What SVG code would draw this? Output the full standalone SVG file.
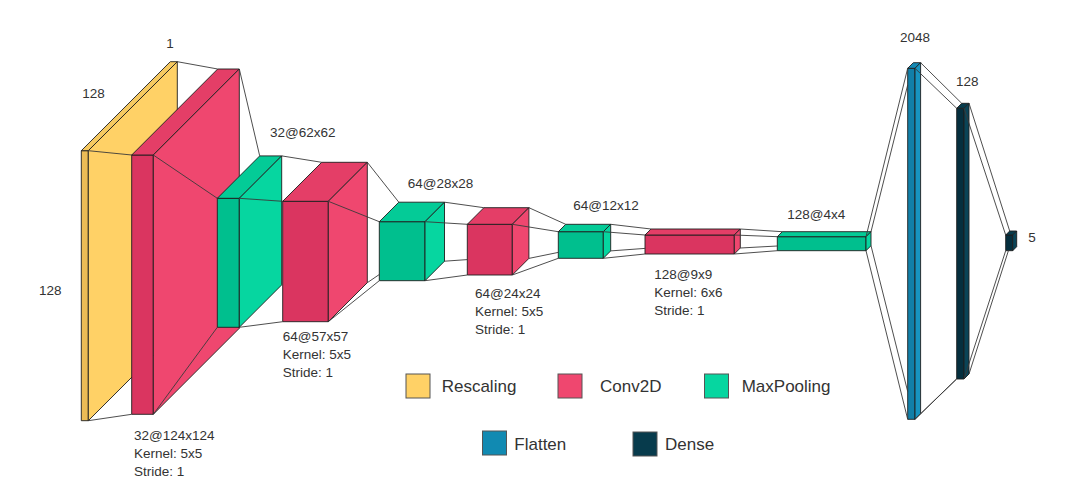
<svg xmlns="http://www.w3.org/2000/svg" width="1069" height="492" viewBox="0 0 1069 492">
<style>
  .e { stroke: #1e1e1e; stroke-width: 0.9; stroke-linejoin: round; }
  .c { stroke: #3a3a3a; stroke-width: 0.9; fill: none; }
  .yf { fill: #ECBC56; } .yt { fill: #F6C960; } .ys { fill: #FFD166; }
  .rf { fill: #DA3560; } .rt { fill: #E43E67; } .rs { fill: #EF476F; }
  .gf { fill: #00BF8E; } .gt { fill: #04CB97; } .gs { fill: #06D6A0; }
  .bf { fill: #117FA8; } .bt { fill: #1489B4; } .bs { fill: #1794C0; }
  .df { fill: #052F3E; } .dt { fill: #073B4C; } .ds { fill: #0A4457; }
  text { font-family: "Liberation Sans", Arial, sans-serif; fill: #333333; }
  .lb { font-size: 13.5px; }
  .lg { font-size: 17px; }
  .sw { stroke: #555555; stroke-width: 1; }
</style>
<rect width="1069" height="492" fill="#ffffff"/>

<g id="rescaling">
  <rect class="e yf" x="81.3" y="150.7" width="7" height="270"/>
  <polygon class="e yt" points="81.3,150.7 88.3,150.7 177.3,61.7 170.3,61.7"/>
  <polygon class="e ys" points="88.3,150.7 177.3,61.7 177.3,331.7 88.3,420.7"/>
  <text class="lb" x="170" y="48" text-anchor="middle">1</text>
  <text class="lb" x="82.3" y="98">128</text>
  <text class="lb" x="39" y="295">128</text>
</g>

<g id="conv1">
  <rect class="e rf" x="131.7" y="155" width="21.6" height="259.3"/>
  <polygon class="e rt" points="131.7,155 153.3,155 239.3,69 217.7,69"/>
  <polygon class="e rs" points="153.3,155 239.3,69 239.3,328.3 153.3,414.3"/>
  <text class="lb" x="134" y="440">32@124x124</text>
  <text class="lb" x="134" y="458">Kernel: 5x5</text>
  <text class="lb" x="134" y="476">Stride: 1</text>
</g>

<g id="pool1">
  <rect class="e gf" x="217.3" y="198.3" width="22" height="129"/>
  <polygon class="e gt" points="217.3,198.3 239.3,198.3 281.7,155.9 259.7,155.9"/>
  <polygon class="e gs" points="239.3,198.3 281.7,155.9 281.7,284.9 239.3,327.3"/>
  <text class="lb" x="270" y="137">32@62x62</text>
</g>

<g id="conv2">
  <rect class="e rf" x="282.7" y="201.3" width="45.6" height="120.4"/>
  <polygon class="e rt" points="282.7,201.3 328.3,201.3 367.3,162.3 321.7,162.3"/>
  <polygon class="e rs" points="328.3,201.3 367.3,162.3 367.3,282.7 328.3,321.7"/>
  <text class="lb" x="282.7" y="341">64@57x57</text>
  <text class="lb" x="282.7" y="359">Kernel: 5x5</text>
  <text class="lb" x="282.7" y="377">Stride: 1</text>
</g>

<g id="pool2">
  <rect class="e gf" x="379.3" y="221.7" width="45.7" height="59"/>
  <polygon class="e gt" points="379.3,221.7 425,221.7 444.5,202.2 398.8,202.2"/>
  <polygon class="e gs" points="425,221.7 444.5,202.2 444.5,261.2 425,280.7"/>
  <text class="lb" x="407.7" y="188">64@28x28</text>
</g>

<g id="conv3">
  <rect class="e rf" x="467.3" y="224.3" width="45" height="50.7"/>
  <polygon class="e rt" points="467.3,224.3 512.3,224.3 528.9,207.7 483.9,207.7"/>
  <polygon class="e rs" points="512.3,224.3 528.9,207.7 528.9,258.4 512.3,275"/>
  <text class="lb" x="475" y="297.5">64@24x24</text>
  <text class="lb" x="475" y="315.5">Kernel: 5x5</text>
  <text class="lb" x="475" y="333.5">Stride: 1</text>
</g>

<g id="pool3">
  <rect class="e gf" x="558.3" y="231.7" width="45" height="26.6"/>
  <polygon class="e gt" points="558.3,231.7 603.3,231.7 610.7,224.3 565.7,224.3"/>
  <polygon class="e gs" points="603.3,231.7 610.7,224.3 610.7,250.9 603.3,258.3"/>
  <text class="lb" x="573.3" y="210">64@12x12</text>
</g>

<g id="conv4">
  <rect class="e rf" x="645" y="235" width="89.3" height="19"/>
  <polygon class="e rt" points="645,235 734.3,235 740.3,229 651,229"/>
  <polygon class="e rs" points="734.3,235 740.3,229 740.3,248 734.3,254"/>
  <text class="lb" x="654.3" y="279">128@9x9</text>
  <text class="lb" x="654.3" y="297">Kernel: 6x6</text>
  <text class="lb" x="654.3" y="315">Stride: 1</text>
</g>

<g id="pool4">
  <rect class="e gf" x="777.3" y="236.7" width="88.7" height="14"/>
  <polygon class="e gt" points="777.3,236.7 866,236.7 871,231.7 782.3,231.7"/>
  <polygon class="e gs" points="866,236.7 871,231.7 871,245.7 866,250.7"/>
  <text class="lb" x="787.3" y="219">128@4x4</text>
</g>

<g id="flatten">
  <rect class="e bf" x="907.7" y="68.3" width="7.3" height="351"/>
  <polygon class="e bt" points="907.7,68.3 915,68.3 920.6,62.7 913.3,62.7"/>
  <polygon class="e bs" points="915,68.3 920.6,62.7 920.6,413.7 915,419.3"/>
  <text class="lb" x="900" y="41.5">2048</text>
</g>

<g id="dense1">
  <rect class="e df" x="956.7" y="108.3" width="7.3" height="270.7"/>
  <polygon class="e dt" points="956.7,108.3 964,108.3 969,103.3 961.7,103.3"/>
  <polygon class="e ds" points="964,108.3 969,103.3 969,374 964,379"/>
  <text class="lb" x="956" y="85.5">128</text>
</g>

<g id="dense2">
  <rect class="e df" x="1005.7" y="235" width="7" height="15.7"/>
  <polygon class="e dt" points="1005.7,235 1012.7,235 1016.7,231 1009.7,231"/>
  <polygon class="e ds" points="1012.7,235 1016.7,231 1016.7,246.7 1012.7,250.7"/>
  <text class="lb" x="1028.3" y="242">5</text>
</g>

<g id="connectors">
  <line class="c" x1="88.3" y1="150.7" x2="131.7" y2="155"/>
  <line class="c" x1="88.3" y1="420.7" x2="131.7" y2="414.3"/>
  <line class="c" x1="177.3" y1="61.7" x2="217.7" y2="69"/>

  <line class="c" x1="153.3" y1="155" x2="217.3" y2="198.3"/>
  <line class="c" x1="153.3" y1="414.3" x2="217.3" y2="327.3"/>
  <line class="c" x1="239.3" y1="69" x2="259.7" y2="155.9"/>

  <line class="c" x1="239.3" y1="198.3" x2="282.7" y2="201.3"/>
  <line class="c" x1="239.3" y1="327.3" x2="282.7" y2="321.7"/>
  <line class="c" x1="281.7" y1="155.9" x2="321.7" y2="162.3"/>

  <line class="c" x1="328.3" y1="201.3" x2="379.3" y2="221.7"/>
  <line class="c" x1="328.3" y1="321.7" x2="379.3" y2="280.7"/>
  <line class="c" x1="367.3" y1="162.3" x2="398.8" y2="202.2"/>
  <line class="c" x1="367.3" y1="282.7" x2="379.3" y2="274.5"/>

  <line class="c" x1="425" y1="221.7" x2="467.3" y2="224.3"/>
  <line class="c" x1="425" y1="280.7" x2="467.3" y2="275"/>
  <line class="c" x1="444.5" y1="202.2" x2="483.9" y2="207.7"/>
  <line class="c" x1="444.5" y1="261.2" x2="467.3" y2="259.6"/>

  <line class="c" x1="512.3" y1="224.3" x2="558.3" y2="231.7"/>
  <line class="c" x1="512.3" y1="275" x2="558.3" y2="258.3"/>
  <line class="c" x1="528.9" y1="207.7" x2="565.7" y2="224.3"/>
  <line class="c" x1="528.9" y1="258.4" x2="558.3" y2="252.4"/>

  <line class="c" x1="603.3" y1="231.7" x2="645" y2="235"/>
  <line class="c" x1="603.3" y1="258.3" x2="645" y2="254"/>
  <line class="c" x1="610.7" y1="224.3" x2="651" y2="229"/>
  <line class="c" x1="610.7" y1="250.9" x2="645" y2="248.4"/>

  <line class="c" x1="734.3" y1="235" x2="777.3" y2="236.7"/>
  <line class="c" x1="734.3" y1="254" x2="777.3" y2="250.7"/>
  <line class="c" x1="740.3" y1="229" x2="782.3" y2="231.7"/>
  <line class="c" x1="740.3" y1="248" x2="777.3" y2="246"/>

  <line class="c" x1="866" y1="236.7" x2="907.7" y2="68.3"/>
  <line class="c" x1="866" y1="250.7" x2="907.7" y2="419.3"/>
  <line class="c" x1="871" y1="231.7" x2="907.7" y2="85"/>
  <line class="c" x1="871" y1="245.7" x2="907.7" y2="391.5"/>

  <line class="c" x1="915" y1="68.3" x2="956.7" y2="108.3"/>
  <line class="c" x1="915" y1="419.3" x2="956.7" y2="379"/>
  <line class="c" x1="920.6" y1="62.7" x2="961.7" y2="103.3"/>
  <line class="c" x1="920.6" y1="413.7" x2="956.7" y2="378.8"/>

  <line class="c" x1="964" y1="108.3" x2="1005.7" y2="235"/>
  <line class="c" x1="964" y1="379" x2="1005.7" y2="250.7"/>
  <line class="c" x1="969" y1="103.3" x2="1009.7" y2="231"/>
  <line class="c" x1="969" y1="374" x2="1008.4" y2="250.7"/>
</g>

<g id="legend-rescaling">
  <rect class="sw" x="406" y="374" width="24" height="24" fill="#FFD166"/>
  <text class="lg" x="441.7" y="392">Rescaling</text>
</g>
<g id="legend-conv2d">
  <rect class="sw" x="558" y="374" width="24" height="24" fill="#EF476F"/>
  <text class="lg" x="600" y="392">Conv2D</text>
</g>
<g id="legend-maxpooling">
  <rect class="sw" x="704.5" y="374" width="24" height="24" fill="#06D6A0"/>
  <text class="lg" x="741.7" y="392">MaxPooling</text>
</g>
<g id="legend-flatten">
  <rect class="sw" x="482.5" y="431" width="24" height="24" fill="#118AB2"/>
  <text class="lg" x="514.3" y="449.5">Flatten</text>
</g>
<g id="legend-dense">
  <rect class="sw" x="633" y="432" width="24" height="24" fill="#073B4C"/>
  <text class="lg" x="665" y="449.5">Dense</text>
</g>
</svg>
